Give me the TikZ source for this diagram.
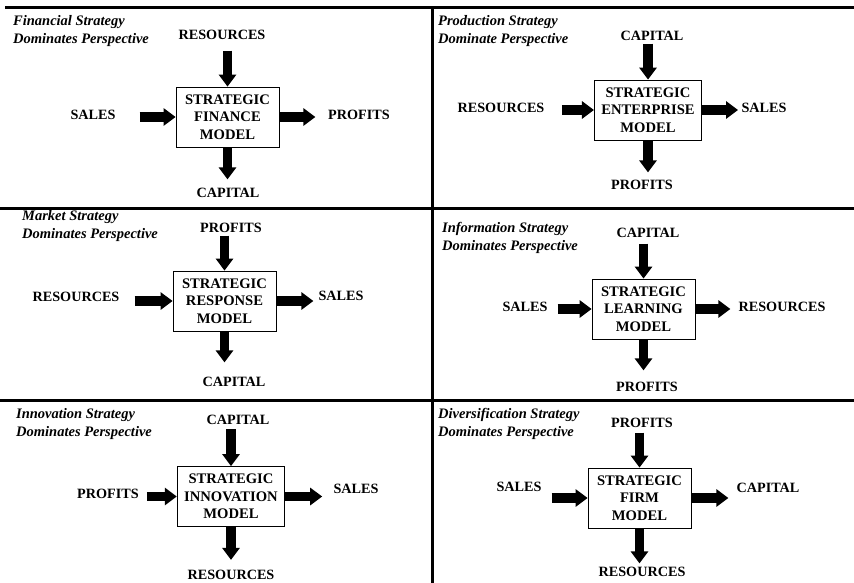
\documentclass[tikz,border=0pt]{standalone}
\usepackage{fontspec}
\setmainfont{Liberation Serif}
\usetikzlibrary{arrows.meta, positioning}

\begin{document}
\begin{tikzpicture}[x=1pt, y=-1pt,
  rule/.style={line width=3pt},
  persp/.style={anchor=west, align=left, inner sep=0pt, font=\fontsize{14.5}{18}\selectfont\bfseries\itshape},
  factor/.style={inner sep=1pt, font=\fontsize{14.2}{17}\selectfont\bfseries},
  model/.style={draw, line width=0.8pt, align=center, minimum width=103pt, minimum height=60pt, inner xsep=7pt, font=\fontsize{14.6}{17.5}\selectfont\bfseries},
  flow/.style={line width=9.5pt, -{Triangle[length=12pt, width=17pt]}}
]
  \useasboundingbox (0,0) rectangle (854,583);
  \draw[rule] (5,8) -- (854,8);
  \draw[rule] (0,208) -- (854,208);
  \draw[rule] (0,400) -- (854,400);
  \draw[rule] (432,8) -- (432,583);

  % financial
  \node[persp]  (t1) at (13,31)      {Financial Strategy\\Dominates Perspective};
  \node[model]  (m1) at (227.5,117)  {STRATEGIC\\FINANCE\\MODEL};
  \node[factor] (r1) at (222,35)     {RESOURCES};
  \node[factor] (s1) at (93,115)     {SALES};
  \node[factor] (p1) at (359,115)    {PROFITS};
  \node[factor] (c1) at (228,193)    {CAPITAL};
  \coordinate[above=36pt of m1.north] (m1n);
  \coordinate[left=36pt of m1.west]   (m1w);
  \coordinate[right=36pt of m1.east]  (m1e);
  \coordinate[below=32pt of m1.south] (m1s);
  \draw[flow] (m1n) -- (m1);  \draw[flow] (m1w) -- (m1);
  \draw[flow] (m1) -- (m1e);  \draw[flow] (m1) -- (m1s);

  % production
  \node[persp]  (t2) at (438,31)     {Production Strategy\\Dominate Perspective};
  \node[model]  (m2) at (648,110)    {STRATEGIC\\ENTERPRISE\\MODEL};
  \node[factor] (c2) at (652,36)     {CAPITAL};
  \node[factor] (r2) at (501,108)    {RESOURCES};
  \node[factor] (s2) at (764,108)    {SALES};
  \node[factor] (p2) at (642,185)    {PROFITS};
  \coordinate[above=36pt of m2.north] (m2n);
  \coordinate[left=32pt of m2.west]   (m2w);
  \coordinate[right=36pt of m2.east]  (m2e);
  \coordinate[below=32pt of m2.south] (m2s);
  \draw[flow] (m2n) -- (m2);  \draw[flow] (m2w) -- (m2);
  \draw[flow] (m2) -- (m2e);  \draw[flow] (m2) -- (m2s);

  % market
  \node[persp]  (t3) at (22,226.5)   {Market Strategy\\Dominates Perspective};
  \node[model]  (m3) at (224.5,301)  {STRATEGIC\\RESPONSE\\MODEL};
  \node[factor] (p3) at (231,228)    {PROFITS};
  \node[factor] (r3) at (76,297)     {RESOURCES};
  \node[factor] (s3) at (341,296)    {SALES};
  \node[factor] (c3) at (234,382)    {CAPITAL};
  \coordinate[above=35pt of m3.north] (m3n);
  \coordinate[left=38pt of m3.west]   (m3w);
  \coordinate[right=37pt of m3.east]  (m3e);
  \coordinate[below=31pt of m3.south] (m3s);
  \draw[flow] (m3n) -- (m3);  \draw[flow] (m3w) -- (m3);
  \draw[flow] (m3) -- (m3e);  \draw[flow] (m3) -- (m3s);

  % information
  \node[persp]  (t4) at (442,238)    {Information Strategy\\Dominates Perspective};
  \node[model]  (m4) at (643.5,309)  {STRATEGIC\\LEARNING\\MODEL};
  \node[factor] (c4) at (648,233)    {CAPITAL};
  \node[factor] (s4) at (525,307)    {SALES};
  \node[factor] (r4) at (782,307)    {RESOURCES};
  \node[factor] (p4) at (647,387)    {PROFITS};
  \coordinate[above=35pt of m4.north] (m4n);
  \coordinate[left=34pt of m4.west]   (m4w);
  \coordinate[right=35pt of m4.east]  (m4e);
  \coordinate[below=31pt of m4.south] (m4s);
  \draw[flow] (m4n) -- (m4);  \draw[flow] (m4w) -- (m4);
  \draw[flow] (m4) -- (m4e);  \draw[flow] (m4) -- (m4s);

  % innovation
  \node[persp]  (t5) at (16,424)     {Innovation Strategy\\Dominates Perspective};
  \node[model]  (m5) at (231,496.5)  {STRATEGIC\\INNOVATION\\MODEL};
  \node[factor] (c5) at (238,420)    {CAPITAL};
  \node[factor] (p5) at (108,494)    {PROFITS};
  \node[factor] (s5) at (356,489)    {SALES};
  \node[factor] (r5) at (231,575)    {RESOURCES};
  \coordinate[above=37pt of m5.north] (m5n);
  \coordinate[left=30pt of m5.west]   (m5w);
  \coordinate[right=37pt of m5.east]  (m5e);
  \coordinate[below=33pt of m5.south] (m5s);
  \draw[flow] (m5n) -- (m5);  \draw[flow] (m5w) -- (m5);
  \draw[flow] (m5) -- (m5e);  \draw[flow] (m5) -- (m5s);

  % diversification
  \node[persp]  (t6) at (438,423.5)  {Diversification Strategy\\Dominates Perspective};
  \node[model]  (m6) at (639.5,498)  {STRATEGIC\\FIRM\\MODEL};
  \node[factor] (p6) at (642,423)    {PROFITS};
  \node[factor] (s6) at (519,487)    {SALES};
  \node[factor] (c6) at (768,488)    {CAPITAL};
  \node[factor] (r6) at (642,572)    {RESOURCES};
  \coordinate[above=35pt of m6.north] (m6n);
  \coordinate[left=36pt of m6.west]   (m6w);
  \coordinate[right=37pt of m6.east]  (m6e);
  \coordinate[below=35pt of m6.south] (m6s);
  \draw[flow] (m6n) -- (m6);  \draw[flow] (m6w) -- (m6);
  \draw[flow] (m6) -- (m6e);  \draw[flow] (m6) -- (m6s);
\end{tikzpicture}
\end{document}
